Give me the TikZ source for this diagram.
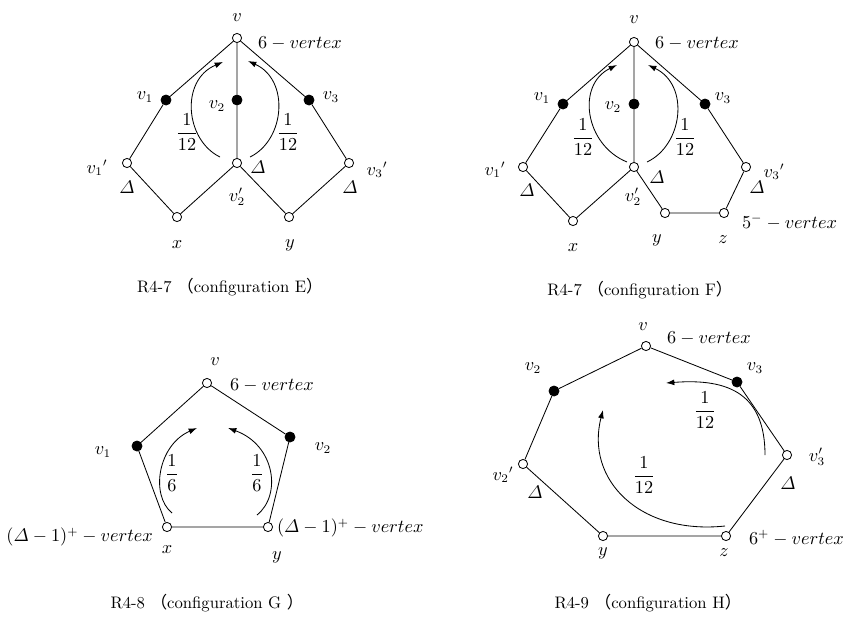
\documentclass[tikz,border=0pt]{standalone}
\usepackage{amsmath}
\usepackage{fontspec}
\newfontfamily\cjk{Noto Sans CJK SC}
\usetikzlibrary{arrows.meta}
\tikzset{
  ovtx/.style={circle, draw, fill=white, inner sep=0pt, minimum size=5.5pt},
  fvtx/.style={circle, draw, fill=black, inner sep=0pt, minimum size=6pt},
  lbl/.style={inner sep=1pt, font=\fontsize{10.5}{12.5}\selectfont},
  share/.style={-{Latex[length=5pt,width=3.5pt]}},
  figcap/.style={inner sep=1pt, font=\fontsize{10}{12}\selectfont}
}

\begin{document}
\begin{tikzpicture}[x=0.6pt, y=-0.6pt, line width=0.5pt]
\useasboundingbox (0,0) rectangle (858,627);
% configuration E
\node[ovtx] (ev) at (237,38) {};
\node[fvtx] (ev1) at (166,100) {};
\node[fvtx] (ev2) at (237,100) {};
\node[fvtx] (ev3) at (309,100) {};
\node[ovtx] (ev1p) at (127,163) {};
\node[ovtx] (ev2p) at (237,163) {};
\node[ovtx] (ev3p) at (349,163) {};
\node[ovtx] (ex) at (177,217) {};
\node[ovtx] (ey) at (289,217) {};
\draw (ev) -- (ev1) -- (ev1p) -- (ex) -- (ev2p) -- (ev2) -- (ev);
\draw (ev) -- (ev3) -- (ev3p) -- (ey) -- (ev2p);
\draw[share] (220,157) .. controls (185,140) and (180,80) .. (223,62);
\draw[share] (250,157) .. controls (285,140) and (290,80) .. (248,61);
\node[lbl] (evl) at (237,18) {$v$};
\node[lbl, anchor=west] (evt) at (256,43) {$6-vertex$};
\node[lbl] (ev1l) at (145,97) {$v_1$};
\node[lbl] (ev2l) at (217,106) {$v_2$};
\node[lbl] (ev3l) at (331,97) {$v_3$};
\node[lbl] (ev1pl) at (97,168) {$v_1{}'$};
\node[lbl] (ev2pl) at (237,197) {$v_2'$};
\node[lbl] (ev3pl) at (377,170) {$v_3{}'$};
\node[lbl] (ed1) at (127,187) {$\varDelta$};
\node[lbl] (ed2) at (258,167) {$\varDelta$};
\node[lbl] (ed3) at (350,187) {$\varDelta$};
\node[lbl] (exl) at (177,245) {$x$};
\node[lbl] (eyl) at (290,245) {$y$};
\node[lbl] (ef1) at (187,132) {$\dfrac{1}{12}$};
\node[lbl] (ef2) at (288,132) {$\dfrac{1}{12}$};
\node[figcap] (ecap) at (230,287) {R4-7 {\cjk （}configuration E{\cjk ）}};
% configuration F
\node[ovtx] (fv) at (634,42) {};
\node[fvtx] (fv1) at (563,104) {};
\node[fvtx] (fv2) at (634,104) {};
\node[fvtx] (fv3) at (705,104) {};
\node[ovtx] (fv1p) at (523,167) {};
\node[ovtx] (fv2p) at (634,167) {};
\node[ovtx] (fv3p) at (746,167) {};
\node[ovtx] (fx) at (573,221) {};
\node[ovtx] (fy) at (665,213) {};
\node[ovtx] (fz) at (724,213) {};
\draw (fv) -- (fv1) -- (fv1p) -- (fx) -- (fv2p) -- (fv2) -- (fv);
\draw (fv2p) -- (fy) -- (fz) -- (fv3p) -- (fv3) -- (fv);
\draw[share] (627,162) .. controls (585,145) and (576,85) .. (617,65);
\draw[share] (647,162) .. controls (683,145) and (690,85) .. (648,65);
\node[lbl] (fvl) at (634,20) {$v$};
\node[lbl, anchor=west] (fvt) at (653,43) {$6-vertex$};
\node[lbl] (fv1l) at (542,98) {$v_1$};
\node[lbl] (fv2l) at (613,107) {$v_2$};
\node[lbl] (fv3l) at (723,98) {$v_3$};
\node[lbl] (fv1pl) at (495,170) {$v_1{}'$};
\node[lbl] (fv2pl) at (633,197) {$v_2'$};
\node[lbl] (fv3pl) at (774,172) {$v_3{}'$};
\node[lbl] (fd1) at (527,190) {$\varDelta$};
\node[lbl] (fd2) at (657,177) {$\varDelta$};
\node[lbl] (fd3) at (757,187) {$\varDelta$};
\node[lbl] (fxl) at (573,248) {$x$};
\node[lbl] (fyl) at (657,240) {$y$};
\node[lbl] (fzl) at (723,240) {$z$};
\node[lbl, anchor=west] (fzt) at (740,222) {$5^{-}-vertex$};
\node[lbl] (ff1) at (583,137) {$\dfrac{1}{12}$};
\node[lbl] (ff2) at (685,137) {$\dfrac{1}{12}$};
\node[figcap] (fcap) at (640,290) {R4-7 {\cjk （}configuration F{\cjk ）}};
% configuration G
\node[ovtx] (gv) at (207,383) {};
\node[fvtx] (gv1) at (137,446) {};
\node[fvtx] (gv2) at (290,437) {};
\node[ovtx] (gx) at (167,527) {};
\node[ovtx] (gy) at (268,527) {};
\draw (gv) -- (gv1) -- (gx) -- (gy) -- (gv2) -- (gv);
\draw[share] (172,513) .. controls (150,495) and (158,445) .. (197,428);
\draw[share] (257,515) .. controls (282,495) and (275,445) .. (228,428);
\node[lbl] (gvl) at (215,362) {$v$};
\node[lbl, anchor=west] (gvt) at (228,385) {$6-vertex$};
\node[lbl] (gv1l) at (103,452) {$v_1$};
\node[lbl] (gv2l) at (323,448) {$v_2$};
\node[lbl, anchor=east] (gxt) at (155,537) {$(\varDelta-1)^{+}-vertex$};
\node[lbl, anchor=west] (gyt) at (275,528) {$(\varDelta-1)^{+}-vertex$};
\node[lbl] (gxl) at (167,550) {$x$};
\node[lbl] (gyl) at (277,557) {$y$};
\node[lbl] (gf1) at (172,473) {$\dfrac{1}{6}$};
\node[lbl] (gf2) at (257,473) {$\dfrac{1}{6}$};
\node[figcap] (gcap) at (207,603) {R4-8 {\cjk （}configuration G {\cjk ）}};
% configuration H
\node[ovtx] (hv) at (646,346) {};
\node[fvtx] (hv2) at (554,391) {};
\node[fvtx] (hv3) at (737,382) {};
\node[ovtx] (hv2p) at (523,464) {};
\node[ovtx] (hv3p) at (787,455) {};
\node[ovtx] (hy) at (603,536) {};
\node[ovtx] (hz) at (726,536) {};
\draw (hv) -- (hv3) -- (hv3p) -- (hz) -- (hy) -- (hv2p) -- (hv2) -- (hv);
\draw[share] (765,455) .. controls (765,395) and (730,378) .. (666,383);
\draw[share] (725,526) .. controls (640,535) and (585,480) .. (603,410);
\node[lbl] (hvl) at (643,327) {$v$};
\node[lbl, anchor=west] (hvt) at (665,338) {$6-vertex$};
\node[lbl] (hv2l) at (533,368) {$v_2$};
\node[lbl] (hv3l) at (755,368) {$v_3$};
\node[lbl] (hv2pl) at (503,475) {$v_2{}'$};
\node[lbl] (hv3pl) at (817,457) {$v_3'$};
\node[lbl] (hd1) at (535,492) {$\varDelta$};
\node[lbl] (hd2) at (788,483) {$\varDelta$};
\node[lbl] (hyl) at (603,553) {$y$};
\node[lbl] (hzl) at (724,553) {$z$};
\node[lbl, anchor=west] (hzt) at (747,538) {$6^{+}-vertex$};
\node[lbl] (hf1) at (705,410) {$\dfrac{1}{12}$};
\node[lbl] (hf2) at (644,475) {$\dfrac{1}{12}$};
\node[figcap] (hcap) at (648,603) {R4-9 {\cjk （}configuration H{\cjk ）}};
\end{tikzpicture}
\end{document}
